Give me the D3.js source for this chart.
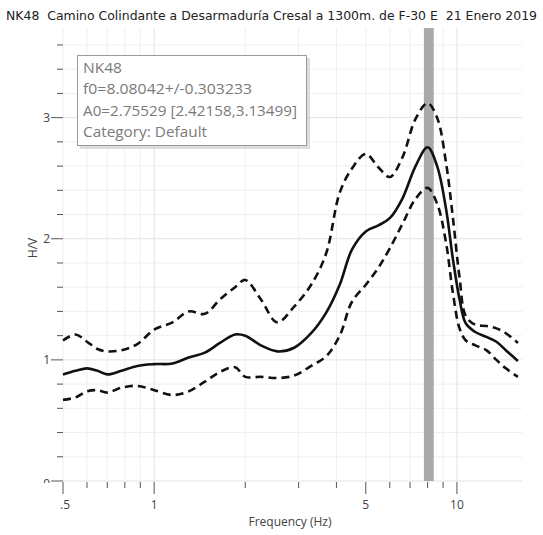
<!DOCTYPE html>
<html><head><meta charset="utf-8">
<script src="https://cdn.jsdelivr.net/npm/d3@7"></script>
<style>body{margin:0;background:#fff;}svg{display:block;}</style>
</head><body>
<script>
const titleText = "NK48  Camino Colindante a Desarmaduría Cresal a 1300m. de F-30 E  21 Enero 2019";
const legendLines = ["NK48", "f0=8.08042+/-0.303233", "A0=2.75529 [2.42158,3.13499]", "Category: Default"];
const f0 = 8.08042, f0Err = 0.303233;
const freq = [0.5,0.55,0.6,0.65,0.7,0.78,0.88,1.0,1.15,1.3,1.47,1.65,1.85,2.0,2.25,2.55,2.9,3.3,3.7,4.1,4.5,5.0,5.5,6.0,6.6,7.3,8.0,8.6,9.2,9.7,10.2,10.7,11.5,12.5,13.5,14.5,15.9];
const hvMean = [0.88,0.91,0.93,0.91,0.88,0.91,0.95,0.965,0.97,1.02,1.06,1.14,1.21,1.20,1.12,1.07,1.10,1.22,1.39,1.62,1.91,2.06,2.11,2.17,2.33,2.60,2.755,2.60,2.25,1.83,1.50,1.30,1.23,1.19,1.15,1.08,0.99];
const hvUpper = [1.16,1.21,1.15,1.09,1.07,1.08,1.13,1.25,1.31,1.40,1.38,1.50,1.60,1.66,1.50,1.31,1.44,1.62,1.88,2.38,2.58,2.70,2.59,2.51,2.67,2.99,3.12,3.00,2.63,2.17,1.68,1.36,1.29,1.28,1.26,1.22,1.14];
const hvLower = [0.67,0.69,0.74,0.75,0.73,0.77,0.785,0.75,0.71,0.74,0.82,0.90,0.94,0.86,0.86,0.85,0.87,0.95,1.03,1.20,1.48,1.62,1.76,1.92,2.12,2.33,2.42,2.29,1.97,1.55,1.26,1.16,1.12,1.08,1.00,0.93,0.86];
const xMajorTicks = [0.5,1,5,10];
const xMajorLabels = [".5","1","5","10"];
const xMinorTicks = [0.6,0.7,0.8,0.9,2,3,4,6,7,8,9];
const yMajorTicks = [0,1,2,3];
const yMinorTicks = [0.2,0.4,0.6,0.8,1.2,1.4,1.6,1.8,2.2,2.4,2.6,2.8,3.2,3.4,3.6];

const W = 543, H = 535;
const svg = d3.select("body").append("svg").attr("width", W).attr("height", H);
const x = d3.scaleLog().domain([0.5, 16.4]).range([63, 522]);
const y = d3.scaleLinear().domain([0, 3.74]).range([481, 28]);
const font = "'Open Sans', 'Noto Sans', sans-serif";

svg.append("text").attr("x", 6).attr("y", 20).attr("textLength", 531).attr("lengthAdjust","spacingAndGlyphs")
  .style("white-space", "pre").attr("xml:space", "preserve")
  .attr("font-family", "'DejaVu Sans Condensed', 'DejaVu Sans', sans-serif").attr("font-size", 11.5).attr("fill", "#222").text(titleText);

// grid
const grid = svg.append("g");
const allY = yMajorTicks.concat(yMinorTicks);
grid.selectAll("line.hy").data(allY).join("line")
  .attr("x1", 63).attr("x2", 522).attr("y1", d => y(d)).attr("y2", d => y(d))
  .attr("stroke", d => Number.isInteger(d) ? "#e2e2e2" : "#efefef").attr("stroke-width", 1);
grid.selectAll("line.vx").data(xMajorTicks.concat(xMinorTicks)).join("line")
  .attr("x1", d => x(d)).attr("x2", d => x(d)).attr("y1", 28).attr("y2", 481)
  .attr("stroke", d => (d===1||d===10) ? "#e2e2e2" : "#efefef").attr("stroke-width", 1);

// f0 band
svg.append("rect").attr("x", x(f0 - f0Err)).attr("width", x(f0 + f0Err) - x(f0 - f0Err))
  .attr("y", 28).attr("height", 481 - 28).attr("fill", "#a9a9a9");

// ticks
const tk = svg.append("g").attr("stroke", "#555").attr("stroke-width", 1);
tk.selectAll("line.xM").data(xMajorTicks).join("line")
  .attr("x1", d => x(d)).attr("x2", d => x(d)).attr("y1", 482).attr("y2", 494);
tk.selectAll("line.xm").data(xMinorTicks).join("line")
  .attr("x1", d => x(d)).attr("x2", d => x(d)).attr("y1", 482).attr("y2", 488);
tk.selectAll("line.yM").data(yMajorTicks).join("line")
  .attr("x1", 51).attr("x2", 63).attr("y1", d => y(d)).attr("y2", d => y(d));
tk.selectAll("line.ym").data(yMinorTicks).join("line")
  .attr("x1", 57).attr("x2", 63).attr("y1", d => y(d)).attr("y2", d => y(d));

svg.selectAll("text.xl").data(xMajorTicks).join("text")
  .attr("x", (d,i) => x(d) + (i===0 ? 2 : 0)).attr("y", 509).attr("text-anchor", "middle")
  .attr("font-family", font).attr("font-size", 12).attr("fill", "#444").text((d,i) => xMajorLabels[i]);
svg.append("defs").append("clipPath").attr("id","c0").append("rect").attr("x",0).attr("y",0).attr("width",60).attr("height",483);
svg.selectAll("text.yl").data(yMajorTicks).join("text")
  .attr("x", 50).attr("y", d => y(d) + (d===0 ? 7 : 4)).attr("text-anchor", "end")
  .attr("clip-path", d => d===0 ? "url(#c0)" : null)
  .attr("font-family", font).attr("font-size", 12).attr("fill", "#444").text(d => d);

svg.append("text").attr("x", 290).attr("y", 526).attr("text-anchor", "middle")
  .attr("font-family", font).attr("font-size", 12).attr("fill", "#444").text("Frequency (Hz)");
svg.append("text").attr("transform", "translate(37,248) rotate(-90)").attr("text-anchor", "middle")
  .attr("font-family", font).attr("font-size", 12).attr("fill", "#444").text("H/V");

// curves
const line = vals => d3.line().x((d,i) => x(freq[i])).y(d => y(d)).curve(d3.curveCatmullRom.alpha(0.5))(vals);
svg.append("path").attr("d", line(hvUpper)).attr("fill","none").attr("stroke","#111").attr("stroke-width",2.6).attr("stroke-dasharray","8,5");
svg.append("path").attr("d", line(hvLower)).attr("fill","none").attr("stroke","#111").attr("stroke-width",2.6).attr("stroke-dasharray","8,5");
svg.append("path").attr("d", line(hvMean)).attr("fill","none").attr("stroke","#111").attr("stroke-width",2.6);

// legend box
const legendWidths = [39, 169, 214, 124];
const lg = svg.append("g");
lg.append("rect").attr("x", 80).attr("y", 58).attr("width", 230).attr("height", 91).attr("fill", "#cfcfcf").attr("opacity",0.7);
lg.append("rect").attr("x", 77.5).attr("y", 55.5).attr("width", 229).attr("height", 90).attr("fill", "#fff").attr("stroke", "#9a9a9a");
lg.selectAll("text").data(legendLines).join("text")
  .attr("x", 83).attr("y", (d,i) => 73 + i*21.3)
  .attr("textLength", (d,i) => legendWidths[i]).attr("lengthAdjust", "spacingAndGlyphs")
  .attr("font-family", font).attr("font-size", 14).attr("fill", "#7a7a7a").text(d => d);
</script>
</body></html>
